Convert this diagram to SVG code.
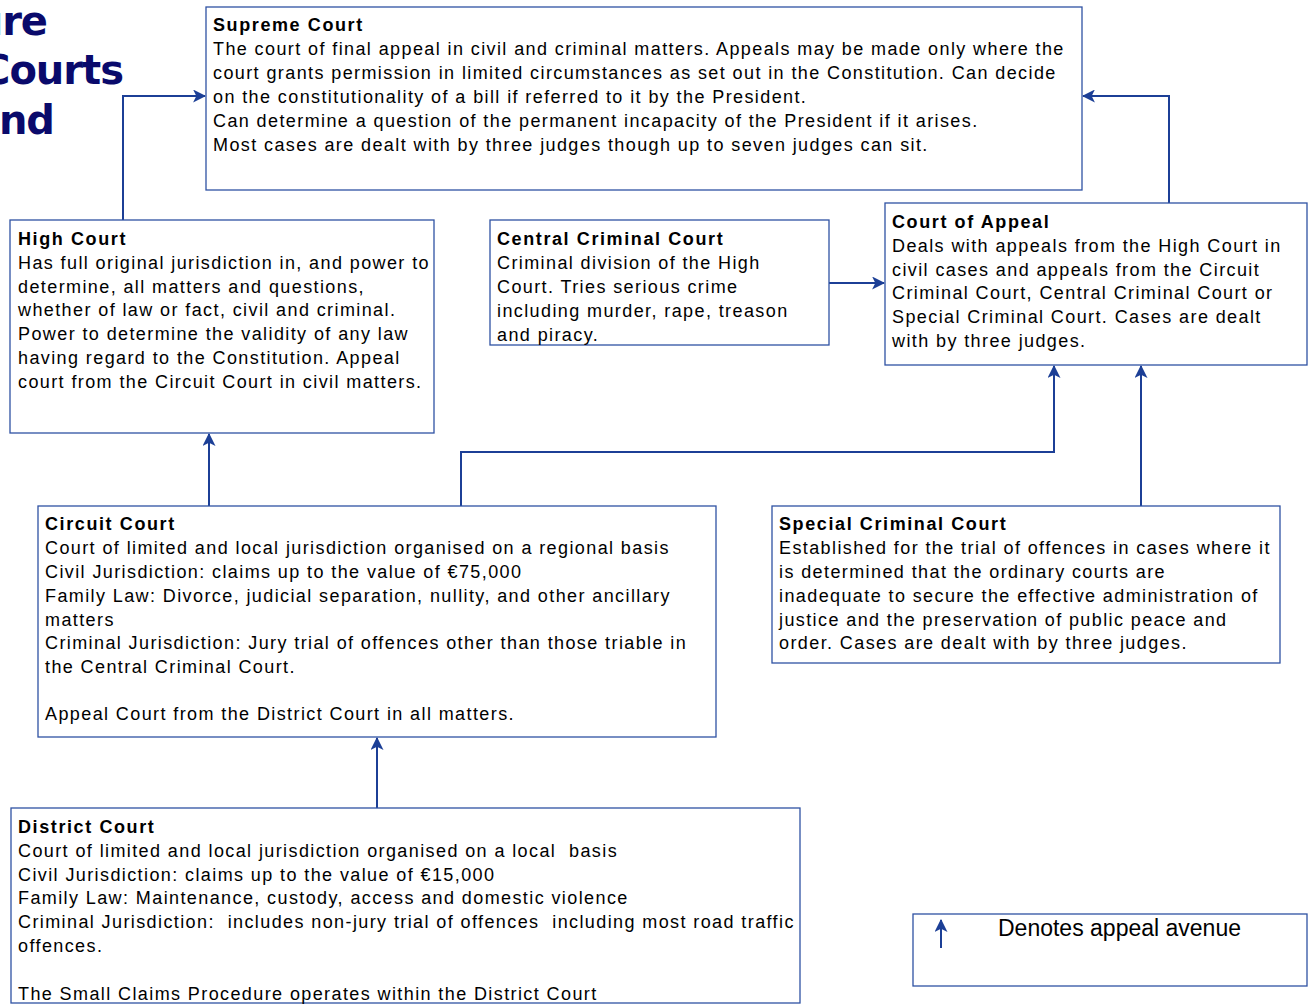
<svg xmlns="http://www.w3.org/2000/svg" width="1309" height="1005" viewBox="0 0 1309 1005">
<style>
.box{fill:#fff;stroke:#2f52a3;stroke-width:1.3}
.t{font-family:"Liberation Sans",Arial,sans-serif;font-size:18px;fill:#000;letter-spacing:1.4px}
.b{font-weight:bold;letter-spacing:1.6px}
.title{font-family:"DejaVu Sans",Verdana,sans-serif;font-weight:bold;font-size:40px;fill:#0a0a6b;text-anchor:end;letter-spacing:-1px}
.c{fill:none;stroke:#1c3f96;stroke-width:2}
</style>
<defs>
<marker id="ah" viewBox="0 0 12 12" refX="11" refY="6" markerWidth="13" markerHeight="13" markerUnits="userSpaceOnUse" orient="auto">
<path d="M0,0 L12,6 L0,12 L3,6 Z" fill="#1c3f96"/>
</marker>
</defs>
<rect width="1309" height="1005" fill="#fff"/>
<g id="heading">
<text class="title" x="47" y="35">ure</text>
<text class="title" x="123" y="84">Courts</text>
<text class="title" x="54" y="134">nd</text>
</g>
<g id="connectors">
<polyline class="c" points="123,220 123,96 205,96" marker-end="url(#ah)"/>
<polyline class="c" points="1169,203 1169,96 1083,96" marker-end="url(#ah)"/>
<line class="c" x1="829" y1="283" x2="884" y2="283" marker-end="url(#ah)"/>
<polyline class="c" points="461,506 461,452 1054,452 1054,366" marker-end="url(#ah)"/>
<line class="c" x1="1141" y1="506" x2="1141" y2="366" marker-end="url(#ah)"/>
<line class="c" x1="209" y1="506" x2="209" y2="434" marker-end="url(#ah)"/>
<line class="c" x1="377" y1="808" x2="377" y2="738" marker-end="url(#ah)"/>
</g>
<g id="supreme-court">
<rect class="box" x="206" y="7" width="876" height="183"/>
<text class="t b" x="213" y="31">Supreme Court</text>
<text class="t" x="213" y="55">The court of final appeal in civil and criminal matters. Appeals may be made only where the</text>
<text class="t" x="213" y="79">court grants permission in limited circumstances as set out in the Constitution. Can decide</text>
<text class="t" x="213" y="103">on the constitutionality of a bill if referred to it by the President.</text>
<text class="t" x="213" y="127">Can determine a question of the permanent incapacity of the President if it arises.</text>
<text class="t" x="213" y="151">Most cases are dealt with by three judges though up to seven judges can sit.</text>
</g>
<g id="high-court">
<rect class="box" x="10" y="220" width="424" height="213"/>
<text class="t b" x="18" y="245">High Court</text>
<text class="t" x="18" y="269">Has full original jurisdiction in, and power to</text>
<text class="t" x="18" y="293">determine, all matters and questions,</text>
<text class="t" x="18" y="316">whether of law or fact, civil and criminal.</text>
<text class="t" x="18" y="340">Power to determine the validity of any law</text>
<text class="t" x="18" y="364">having regard to the Constitution. Appeal</text>
<text class="t" x="18" y="388">court from the Circuit Court in civil matters.</text>
</g>
<g id="central-criminal-court">
<rect class="box" x="490" y="220" width="339" height="125"/>
<text class="t b" x="497" y="245">Central Criminal Court</text>
<text class="t" x="497" y="269">Criminal division of the High</text>
<text class="t" x="497" y="293">Court. Tries serious crime</text>
<text class="t" x="497" y="317">including murder, rape, treason</text>
<text class="t" x="497" y="341">and piracy.</text>
</g>
<g id="court-of-appeal">
<rect class="box" x="885" y="203" width="422" height="162"/>
<text class="t b" x="892" y="228">Court of Appeal</text>
<text class="t" x="892" y="252">Deals with appeals from the High Court in</text>
<text class="t" x="892" y="276">civil cases and appeals from the Circuit</text>
<text class="t" x="892" y="299">Criminal Court, Central Criminal Court or</text>
<text class="t" x="892" y="323">Special Criminal Court. Cases are dealt</text>
<text class="t" x="892" y="347">with by three judges.</text>
</g>
<g id="circuit-court">
<rect class="box" x="38" y="506" width="678" height="231"/>
<text class="t b" x="45" y="530">Circuit Court</text>
<text class="t" x="45" y="554">Court of limited and local jurisdiction organised on a regional basis</text>
<text class="t" x="45" y="578">Civil Jurisdiction: claims up to the value of €75,000</text>
<text class="t" x="45" y="602">Family Law: Divorce, judicial separation, nullity, and other ancillary</text>
<text class="t" x="45" y="626">matters</text>
<text class="t" x="45" y="649">Criminal Jurisdiction: Jury trial of offences other than those triable in</text>
<text class="t" x="45" y="673">the Central Criminal Court.</text>
<text class="t" x="45" y="720">Appeal Court from the District Court in all matters.</text>
</g>
<g id="special-criminal-court">
<rect class="box" x="772" y="506" width="508" height="157"/>
<text class="t b" x="779" y="530">Special Criminal Court</text>
<text class="t" x="779" y="554">Established for the trial of offences in cases where it</text>
<text class="t" x="779" y="578">is determined that the ordinary courts are</text>
<text class="t" x="779" y="602">inadequate to secure the effective administration of</text>
<text class="t" x="779" y="626">justice and the preservation of public peace and</text>
<text class="t" x="779" y="649">order. Cases are dealt with by three judges.</text>
</g>
<g id="district-court">
<rect class="box" x="11" y="808" width="789" height="195"/>
<text class="t b" x="18" y="833">District Court</text>
<text class="t" x="18" y="857" xml:space="preserve">Court of limited and local jurisdiction organised on a local  basis</text>
<text class="t" x="18" y="881">Civil Jurisdiction: claims up to the value of €15,000</text>
<text class="t" x="18" y="904">Family Law: Maintenance, custody, access and domestic violence</text>
<text class="t" x="18" y="928" xml:space="preserve">Criminal Jurisdiction:  includes non-jury trial of offences  including most road traffic</text>
<text class="t" x="18" y="952">offences.</text>
<text class="t" x="18" y="1000">The Small Claims Procedure operates within the District Court</text>
</g>
<g id="legend">
<rect class="box" x="913" y="914" width="394" height="72"/>
<line class="c" x1="941" y1="948" x2="941" y2="920" stroke-width="1.5" marker-end="url(#ah)"/>
<text x="998" y="936" style="font-family:'Liberation Sans',Arial,sans-serif;font-size:23px;fill:#000">Denotes appeal avenue</text>
</g>
</svg>
